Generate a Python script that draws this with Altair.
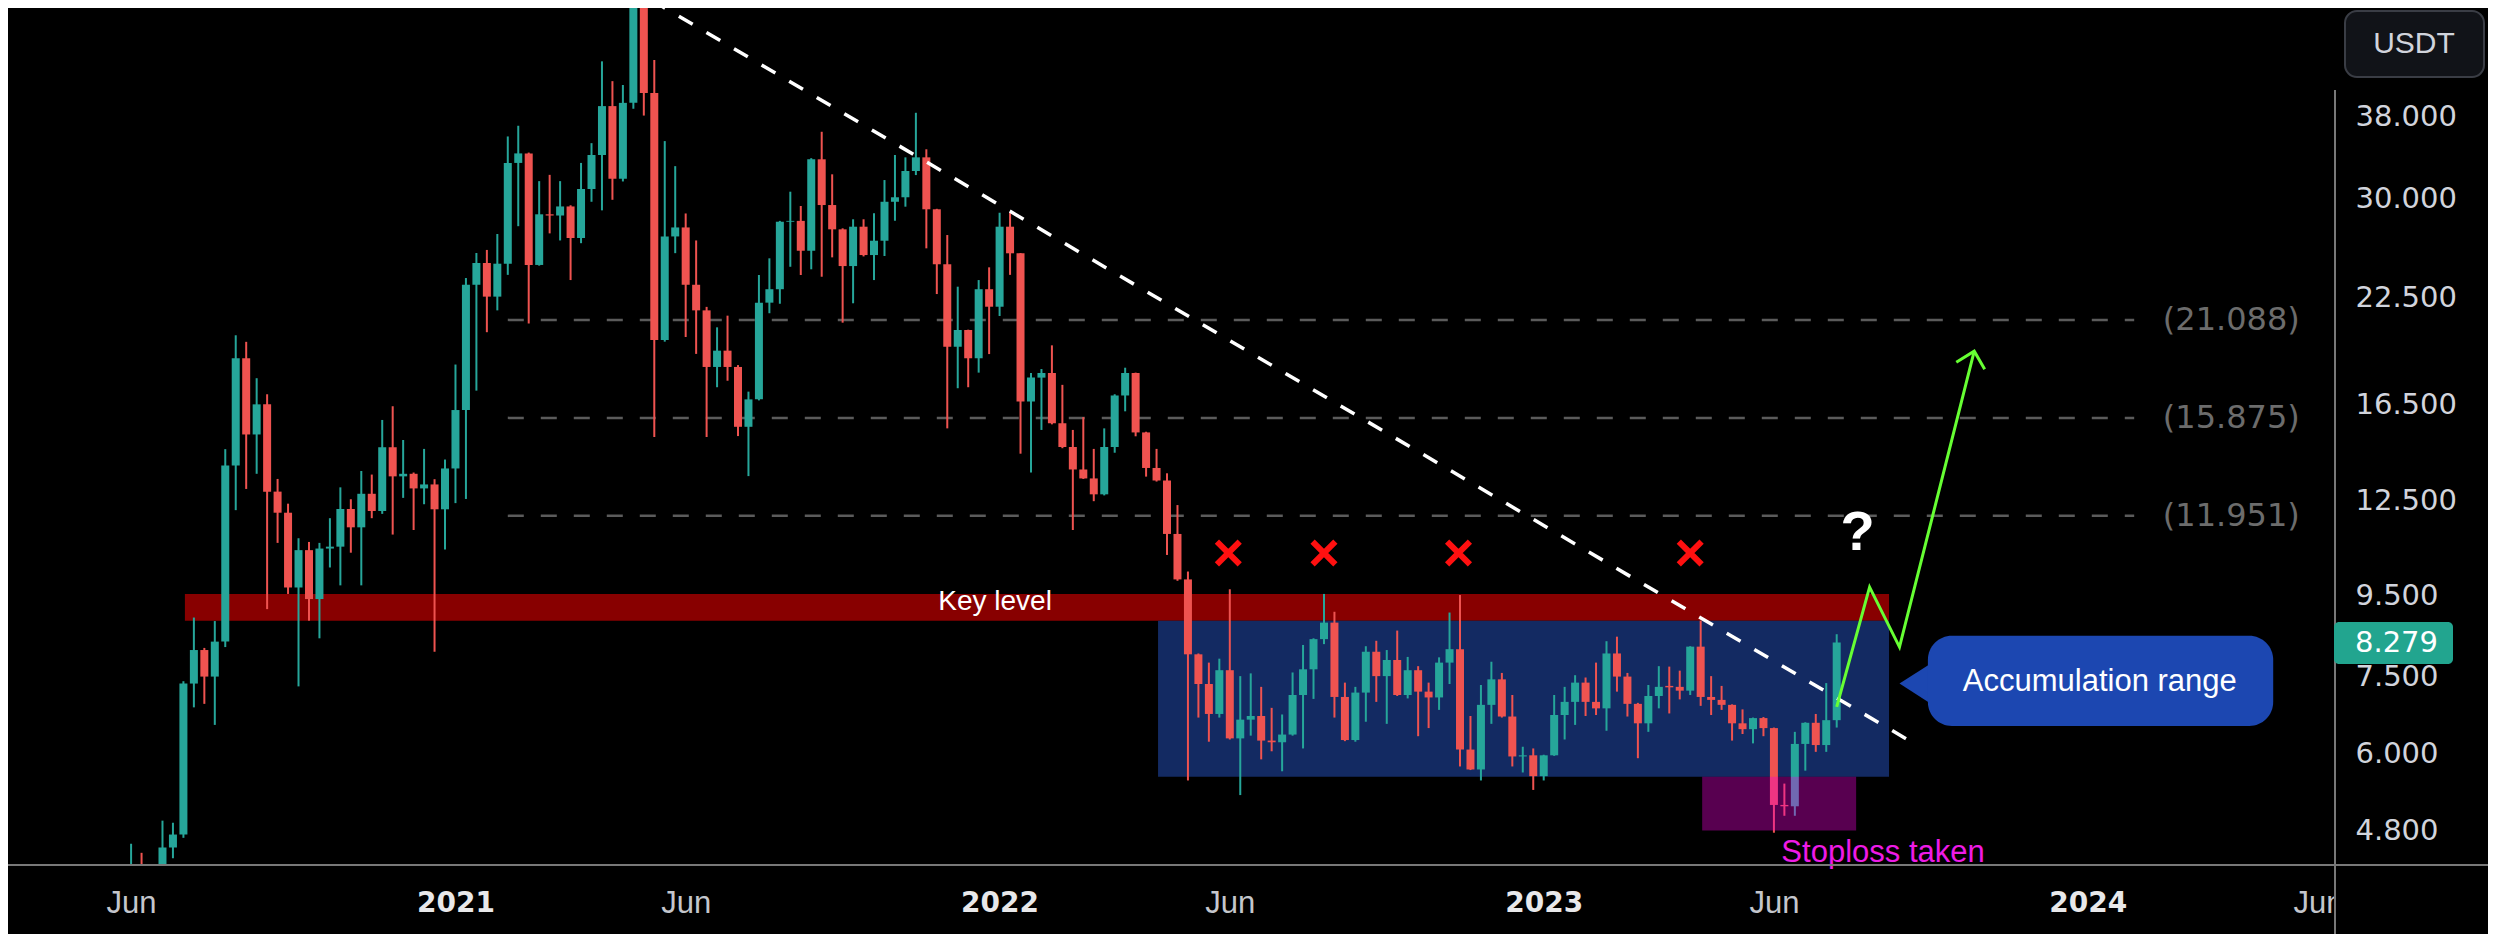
import altair as alt
import pandas as pd
import numpy as np

FONT = "Liberation Sans"
NUMFONT = "DejaVu Sans"
UP, DOWN = "#26a69a", "#ef5350"

# ---------------- weekly candles (LINK/USDT), first week starting 2020-06-01 ----------------
first_week = "2020-06-01"
opens = [4.00, 4.30, 4.20, 4.22, 4.57, 4.745, 7.35, 8.10, 7.50, 8.30, 13.83, 18.87, 15.13, 16.51, 12.82, 12.06,
         9.71, 10.82, 9.39, 10.87, 10.93, 12.19, 11.56, 12.74, 12.12, 14.58, 13.40, 13.50, 12.94, 13.09, 12.18,
         13.71, 16.24, 23.35, 24.87, 22.56, 24.82, 33.24, 34.17, 24.73, 28.64, 28.54, 29.30, 26.74, 30.82, 34.01,
         39.19, 31.75, 39.56, 52.58, 40.72, 19.89, 26.86, 27.57, 23.35, 21.68, 18.40, 19.29, 18.40, 15.47, 16.75,
         22.17, 23.05, 28.03, 28.10, 25.77, 33.59, 29.42, 27.42, 24.65, 27.63, 25.45, 26.53, 29.70, 30.09, 32.47,
         33.78, 29.06, 24.78, 19.51, 20.48, 18.87, 23.05, 21.91, 27.63, 25.58, 16.65, 17.84, 18.08, 15.63, 14.59,
         13.67, 13.32, 12.72, 14.59, 16.94, 18.08, 15.22, 13.73, 13.24, 11.34, 9.94, 8.00, 7.34, 6.73, 7.64, 6.27,
         6.62, 6.69, 6.23, 6.20, 6.34, 7.11, 7.66, 8.36, 8.77, 7.07, 6.24, 7.16, 8.06, 7.51, 7.87, 7.11, 7.64,
         7.18, 7.06, 7.81, 8.12, 6.07, 5.73, 6.91, 7.44, 6.68, 5.95, 5.97, 5.62, 5.97, 6.71, 6.97, 7.37, 6.97,
         6.84, 8.02, 7.50, 6.93, 6.55, 7.09, 7.30, 7.28, 7.20, 8.18, 7.07, 7.01, 6.91, 6.55, 6.44, 6.65, 6.46,
         5.17, 5.15, 6.17, 6.56, 6.15, 6.61]
highs = [4.62, 4.50, 4.32, 4.94, 4.91, 7.40, 8.90, 8.15, 8.81, 14.50, 20.17, 19.79, 17.81, 17.00, 13.30, 12.38,
         11.20, 11.08, 11.05, 11.87, 12.98, 12.54, 13.61, 13.47, 15.78, 16.42, 14.89, 13.55, 14.51, 13.29, 14.07,
         18.53, 23.81, 25.60, 25.83, 27.05, 35.89, 37.02, 34.25, 31.53, 32.11, 31.53, 29.40, 33.24, 35.20, 44.62,
         42.13, 41.66, 52.99, 53.00, 44.78, 35.41, 32.93, 28.71, 26.55, 21.90, 20.64, 21.35, 18.50, 17.13, 24.02,
         25.21, 28.10, 30.58, 29.34, 33.70, 36.38, 32.16, 27.50, 28.23, 28.23, 28.73, 31.63, 34.01, 33.78, 38.44,
         34.58, 29.10, 26.97, 23.22, 20.50, 23.67, 24.56, 28.77, 28.80, 25.60, 18.08, 18.29, 19.59, 17.47, 15.33,
         15.91, 14.51, 15.40, 17.00, 18.36, 18.10, 15.25, 14.51, 13.52, 12.33, 10.17, 8.02, 7.81, 7.90, 9.66, 7.51,
         7.57, 7.28, 6.85, 6.72, 7.59, 8.22, 8.38, 9.53, 9.05, 7.37, 7.28, 8.19, 8.32, 8.10, 8.57, 7.94, 7.73,
         7.37, 7.93, 9.03, 9.50, 6.69, 7.32, 7.83, 7.58, 7.11, 6.12, 6.09, 5.98, 7.11, 7.28, 7.53, 7.48, 7.81,
         8.31, 8.42, 7.58, 6.95, 7.32, 7.73, 7.72, 7.63, 8.19, 8.82, 7.51, 7.30, 6.92, 6.82, 6.66, 6.67, 6.47,
         5.50, 6.39, 6.57, 6.73, 7.36, 8.48]
lows = [3.90, 4.05, 3.95, 4.10, 4.43, 4.70, 6.86, 6.93, 6.52, 8.17, 12.15, 12.92, 13.50, 9.12, 11.05, 9.53,
        7.29, 8.82, 8.38, 10.29, 9.77, 10.74, 9.77, 11.87, 12.02, 11.32, 12.59, 11.47, 12.36, 8.06, 10.84,
        12.40, 12.55, 17.18, 20.35, 21.68, 24.03, 27.67, 20.87, 24.68, 27.10, 26.55, 23.67, 26.34, 29.70, 28.97,
        29.87, 31.50, 38.89, 38.13, 15.02, 19.80, 25.59, 20.07, 19.11, 15.02, 17.35, 17.68, 15.06, 13.41, 16.70,
        21.50, 22.10, 24.60, 24.02, 24.42, 23.90, 25.28, 20.92, 22.13, 25.35, 23.67, 25.38, 28.11, 29.28, 32.09,
        25.95, 22.73, 15.40, 17.30, 17.35, 18.10, 19.10, 21.33, 24.03, 14.31, 13.55, 15.33, 15.58, 14.54, 11.47,
        13.30, 12.47, 12.68, 14.35, 16.18, 15.05, 13.39, 13.20, 10.67, 9.90, 5.55, 6.66, 6.21, 6.66, 6.25, 5.32,
        6.32, 5.90, 6.04, 5.70, 6.32, 6.09, 7.03, 8.24, 6.66, 6.22, 6.21, 6.58, 6.97, 6.54, 7.09, 7.04, 6.31,
        6.46, 6.81, 7.34, 5.78, 5.72, 5.55, 6.54, 6.66, 5.78, 5.68, 5.40, 5.55, 5.96, 6.25, 6.52, 6.69, 6.71,
        6.41, 7.18, 6.68, 5.92, 6.39, 6.84, 6.74, 7.02, 7.11, 6.89, 6.71, 6.81, 6.23, 6.35, 6.18, 6.31, 4.77,
        5.01, 5.01, 5.71, 6.03, 6.03, 6.47]
closes = [4.30, 4.20, 4.22, 4.57, 4.745, 7.35, 8.10, 7.50, 8.30, 13.83, 18.87, 15.13, 16.51, 12.82, 12.06, 9.71,
          10.82, 9.39, 10.87, 10.93, 12.19, 11.56, 12.74, 12.12, 14.58, 13.40, 13.50, 12.94, 13.09, 12.18, 13.71,
          16.24, 23.35, 24.87, 22.56, 24.82, 33.24, 34.17, 24.73, 28.64, 28.54, 29.30, 26.74, 30.82, 34.01, 39.19,
          31.75, 39.56, 52.58, 40.72, 19.89, 26.86, 27.57, 23.35, 21.68, 18.40, 19.29, 18.40, 15.47, 16.75, 22.17,
          23.05, 28.03, 28.10, 25.77, 33.59, 29.42, 27.42, 24.65, 27.63, 25.45, 26.53, 29.70, 30.09, 32.47, 33.78,
          29.06, 24.78, 19.51, 20.48, 18.87, 23.05, 21.91, 27.63, 25.58, 16.65, 17.84, 18.08, 15.63, 14.59, 13.67,
          13.32, 12.72, 14.59, 16.94, 18.08, 15.22, 13.73, 13.24, 11.34, 9.94, 8.00, 7.34, 6.73, 7.64, 6.27, 6.62,
          6.69, 6.23, 6.20, 6.34, 7.11, 7.66, 8.36, 8.77, 7.07, 6.24, 7.16, 8.06, 7.51, 7.87, 7.11, 7.64, 7.18,
          7.06, 7.81, 8.12, 6.07, 5.73, 6.91, 7.44, 6.68, 5.95, 5.97, 5.62, 5.97, 6.71, 6.97, 7.37, 6.97, 6.84,
          8.02, 7.50, 6.93, 6.55, 7.09, 7.28, 7.27, 7.20, 8.18, 7.07, 7.01, 6.91, 6.55, 6.44, 6.65, 6.46, 5.17,
          5.15, 6.17, 6.56, 6.15, 6.61, 8.279]

dates = pd.date_range(first_week, periods=len(opens), freq="7D")
candles = pd.DataFrame({"date": dates.strftime("%Y-%m-%d"), "open": opens, "high": highs,
                        "low": lows, "close": closes})
candles["dir"] = np.where(candles["close"] >= candles["open"], "up", "down")

# ---------------- annotations ----------------
band_start, band_end = ["2020-07-07"], ["2023-08-21"]
band_low, band_high = [8.82], [9.53]
acc_start, acc_end, acc_low, acc_high = ["2022-04-19"], ["2023-08-21"], [5.61], [8.82]
sl_start, sl_end, sl_low, sl_high = ["2023-04-18"], ["2023-07-30"], [4.80], [5.61]

fib_levels = [21.088, 15.875, 11.951]
fib_labels = ["(21.088)", "(15.875)", "(11.951)"]
fib_start, fib_end, fib_label_at = "2021-02-08", "2024-02-01", "2024-04-06"

trend_dates, trend_values = ["2021-05-15", "2023-09-06"], [53.3, 6.19]
x_dates, x_value = ["2022-06-05", "2022-08-08", "2022-11-06", "2023-04-10"], 10.73
q_date, q_value = "2023-07-31", 11.37
path_dates = ["2023-07-17", "2023-08-08", "2023-08-28", "2023-10-17"]
path_values = [6.87, 9.72, 8.17, 19.26]
head_dates = ["2023-10-05", "2023-10-17", "2023-10-24"]
head_values = [18.65, 19.26, 18.28]
call_tip_dates, call_tip_y, call_tip_y2 = ["2023-08-28", "2023-09-18"], [7.35, 7.79], [7.35, 6.93]
call_start, call_end, call_low, call_high = ["2023-09-16"], ["2024-05-04"], [6.50], [8.44]
call_text_date, call_text_value = "2024-01-09", 7.39
key_text_date, key_text_value = "2021-12-31", 9.31
sl_text_date, sl_text_value = "2023-08-17", 4.50

last_price = "8.279"

y_ticks = [4.8, 6, 7.5, 9.5, 12.5, 16.5, 22.5, 30, 38]
x_ticks = ["2020-06-01", "2021-01-04", "2021-06-07", "2022-01-03", "2022-06-06",
           "2023-01-02", "2023-06-05", "2024-01-01", "2024-06-03"]
y_domain = [4.344, 52.08]
x_domain = ["2020-03-14", "2024-06-11"]

# ---------------- layout ----------------
W, H = 2327, 857
TOTAL_W, TOTAL_H = 2480, 926


def ms(s):
    return int(pd.Timestamp(s).value // 10**6)


xscale = alt.Scale(type="utc", domain=[ms(d) for d in x_domain])
yscale = alt.Scale(type="log", domain=y_domain, nice=False)

is_year = "utcmonth(datum.value) == 0"
xaxis = alt.Axis(
    values=[ms(d) for d in x_ticks],
    labelExpr="utcmonth(datum.value) == 0 ? utcFormat(datum.value, '%Y') : utcFormat(datum.value, '%b')",
    labelFontWeight={"condition": {"test": is_year, "value": "bold"}, "value": "normal"},
    labelColor={"condition": {"test": is_year, "value": "#e8e8ea"}, "value": "#c4c6cc"},
    labelFont={"condition": {"test": is_year, "value": NUMFONT}, "value": FONT},
    labelFontSize={"condition": {"test": is_year, "value": 28}, "value": 31},
    ticks=False, domain=False, grid=False,
    labelPadding=38, labelBaseline="middle", labelOverlap=False, labelFlush=False, title=None)
yaxis = alt.Axis(orient="right", values=y_ticks, format=".3f", labelFont=NUMFONT, labelFontSize=29,
                 labelColor="#d1d4dc", ticks=False, domain=False, grid=False,
                 labelPadding=20, labelAlign="left", labelBaseline="middle", labelOverlap=False,
                 labelFlush=False, title=None)


def X(field):
    return alt.X(field, type="temporal", scale=xscale, axis=xaxis, title=None)


def Y(field):
    return alt.Y(field, type="quantitative", scale=yscale, axis=yaxis, title=None)


def df(**kw):
    return pd.DataFrame(kw)


one = df(a=[0])

band = alt.Chart(df(x1=band_start, x2=band_end, y1=band_low, y2=band_high)).mark_rect(
    color="#880000").encode(x=X("x1"), x2="x2", y=Y("y1"), y2="y2")
acc = alt.Chart(df(x1=acc_start, x2=acc_end, y1=acc_low, y2=acc_high)).mark_rect(
    color="#132a62").encode(x=X("x1"), x2="x2", y=Y("y1"), y2="y2")

fib_df = df(level=fib_levels, label=fib_labels, x1=[fib_start] * 3, x2=[fib_end] * 3,
            xl=[fib_label_at] * 3)
fib_lines = alt.Chart(fib_df).mark_rule(color="#5b5b5b", strokeWidth=2.5, strokeDash=[16, 17]).encode(
    x=X("x1"), x2="x2", y=Y("level"))
fib_text = alt.Chart(fib_df).mark_text(font=NUMFONT, fontSize=32, color="#6c6c6c", align="center",
                                       baseline="middle").encode(x=X("xl"), y=Y("level"), text="label")

color_enc = alt.Color("dir:N", scale=alt.Scale(domain=["up", "down"], range=[UP, DOWN]), legend=None)
wicks = alt.Chart(candles).mark_rule(strokeWidth=2, clip=True).encode(
    x=X("date"), y=Y("low"), y2="high", color=color_enc)
bodies = alt.Chart(candles).mark_bar(size=8, clip=True).encode(
    x=X("date"), y=Y("open"), y2="close", color=color_enc)

sl_box = alt.Chart(df(x1=sl_start, x2=sl_end, y1=sl_low, y2=sl_high)).mark_rect(
    color="#f000d8", opacity=0.37).encode(x=X("x1"), x2="x2", y=Y("y1"), y2="y2")

trend = alt.Chart(df(d=trend_dates, v=trend_values)).mark_line(
    color="white", strokeWidth=3.5, strokeDash=[16, 16], clip=True).encode(x=X("d"), y=Y("v"))

key_text = alt.Chart(df(d=[key_text_date], v=[key_text_value], t=["Key level"])).mark_text(
    font=FONT, fontSize=28, color="white", align="center", baseline="middle").encode(
    x=X("d"), y=Y("v"), text="t")

x_marks = alt.Chart(df(d=x_dates, v=[x_value] * len(x_dates))).mark_point(
    shape="M-1,-1L1,1M1,-1L-1,1", filled=False, color="#ff1010", strokeWidth=6, size=520,
    opacity=1).encode(x=X("d"), y=Y("v"))

q_text = alt.Chart(df(d=[q_date], v=[q_value], t=["?"])).mark_text(
    font=FONT, fontSize=56, fontWeight="bold", color="white", align="center", baseline="middle").encode(
    x=X("d"), y=Y("v"), text="t")

green_path = alt.Chart(df(d=path_dates, v=path_values, o=list(range(len(path_dates))))).mark_line(
    color="#66ff33", strokeWidth=3).encode(x=X("d"), y=Y("v"), order="o:Q")
green_head = alt.Chart(df(d=head_dates, v=head_values, o=list(range(len(head_dates))))).mark_line(
    color="#66ff33", strokeWidth=3).encode(x=X("d"), y=Y("v"), order="o:Q")

call_tip = alt.Chart(df(d=call_tip_dates, y1=call_tip_y, y2=call_tip_y2)).mark_area(
    color="#1c47b1", opacity=1).encode(x=X("d"), y=Y("y1"), y2="y2")
call_box = alt.Chart(df(x1=call_start, x2=call_end, y1=call_low, y2=call_high)).mark_rect(
    color="#1c47b1", cornerRadius=24).encode(x=X("x1"), x2="x2", y=Y("y1"), y2="y2")
call_text = alt.Chart(df(d=[call_text_date], v=[call_text_value], t=["Accumulation range"])).mark_text(
    font=FONT, fontSize=31, color="white", align="center", baseline="middle").encode(
    x=X("d"), y=Y("v"), text="t")

sl_text = alt.Chart(df(d=[sl_text_date], v=[sl_text_value], t=["Stoploss taken"])).mark_text(
    font=FONT, fontSize=31, color="#ee1be6", align="center", baseline="middle").encode(
    x=X("d"), y=Y("v"), text="t")

# frame lines, price tag and currency button (outside the plotting area, pixel placed)
corner_mask = alt.Chart(one).mark_rect(color="#000000").encode(
    x=alt.value(W + 1), x2=alt.value(TOTAL_W), y=alt.value(H + 1), y2=alt.value(TOTAL_H))
x_line = alt.Chart(one).mark_rule(color="#787878", strokeWidth=2).encode(
    x=alt.value(0), x2=alt.value(TOTAL_W), y=alt.value(H))
y_line = alt.Chart(one).mark_rule(color="#787878", strokeWidth=2).encode(
    x=alt.value(W), y=alt.value(82), y2=alt.value(TOTAL_H))

tag = alt.Chart(one).mark_rect(color="#22a58f", cornerRadius=5).encode(
    x=alt.value(W - 1), x2=alt.value(2445), y=alt.value(614), y2=alt.value(656))
tag_text = alt.Chart(one).mark_text(font=NUMFONT, fontSize=29, color="white", align="left",
                                    baseline="middle").encode(
    x=alt.value(2347), y=alt.value(635), text=alt.value(last_price))

usdt_box = alt.Chart(one).mark_rect(fill="#111318", stroke="#3a3d45", strokeWidth=2,
                                    cornerRadius=12).encode(
    x=alt.value(2337), x2=alt.value(2476), y=alt.value(3), y2=alt.value(69))
usdt_text = alt.Chart(one).mark_text(font=FONT, fontSize=30, color="#d1d4dc", align="center",
                                     baseline="middle").encode(
    x=alt.value(2406), y=alt.value(36), text=alt.value("USDT"))

chart = alt.layer(
    band, acc, fib_lines, fib_text, wicks, bodies, sl_box, trend, key_text, x_marks, q_text,
    green_path, green_head, call_tip, call_box, call_text, sl_text, corner_mask, x_line, y_line,
    tag, tag_text, usdt_box, usdt_text
).properties(
    width=W, height=H, background="#000000",
    autosize=alt.AutoSizeParams(type="none"),
    padding={"left": 0, "top": 0, "right": TOTAL_W - W, "bottom": TOTAL_H - H},
).configure_view(stroke=None)

chart.save("out.html", embed_options={"renderer": "svg", "actions": False})
